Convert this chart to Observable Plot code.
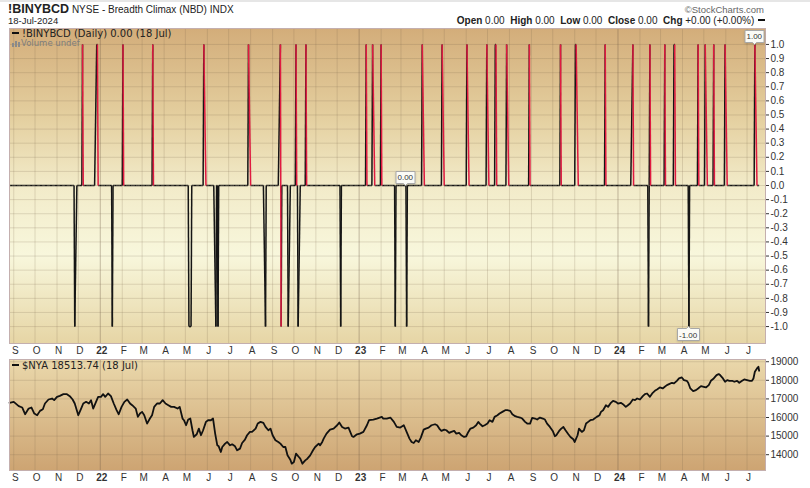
<!DOCTYPE html>
<html><head><meta charset="utf-8">
<script src="https://cdn.jsdelivr.net/npm/d3@7"></script>
<script src="https://cdn.jsdelivr.net/npm/@observablehq/plot@0.6"></script>
<style>
body{margin:0;background:#fff;font-family:"Liberation Sans",Arial,sans-serif;}
#wrap{position:relative;width:810px;height:488px;overflow:hidden;background:#fff;}
.abs{position:absolute;white-space:nowrap;}
.leg{font-family:"DejaVu Sans",sans-serif;font-size:10px;color:#222;line-height:11px;}
.dash{display:inline-block;width:7px;height:2px;background:#111;vertical-align:middle;margin-right:3px;position:relative;top:-1px;}
</style></head><body>
<svg width="0" height="0" style="position:absolute">
 <defs>
  <linearGradient id="gTop" x1="0" y1="0" x2="0" y2="1">
   <stop offset="0" stop-color="#d3ad7a"/>
   <stop offset="0.28" stop-color="#e4cf9f"/>
   <stop offset="0.5" stop-color="#f2ebc9"/>
   <stop offset="0.72" stop-color="#f8f7dc"/>
   <stop offset="1" stop-color="#e6d5a5"/>
  </linearGradient>
  <linearGradient id="gBot" x1="0" y1="0" x2="0" y2="1">
   <stop offset="0" stop-color="#ead8ab"/>
   <stop offset="1" stop-color="#cda472"/>
  </linearGradient>
 </defs>
</svg>
<div id="wrap">
 <div class="abs" style="left:0;top:0;width:810px;height:2px;background:#e6e6e6;"></div>
 <div class="abs" style="left:8px;top:2px;font-size:10px;color:#222;"><b style="font-size:12.5px;">!BINYBCD</b> NYSE - Breadth Climax (NBD) INDX</div>
 <div class="abs" style="left:8px;top:15px;font-size:9.5px;color:#222;">18-Jul-2024</div>
 <div class="abs" style="right:46px;top:4px;font-size:9.5px;color:#666;">©StockCharts.com</div>
 <div class="abs" style="right:45px;top:15px;font-size:10px;color:#222;"><b>Open</b> 0.00 &nbsp;<b>High</b> 0.00 &nbsp;<b>Low</b> 0.00 &nbsp;<b>Close</b> 0.00 &nbsp;<b>Chg</b> +0.00 (+0.00%) <span class="dash" style="margin:0 0 0 1px"></span></div>
 <div id="top" class="abs" style="left:0;top:24px"></div>
 <div id="bot" class="abs" style="left:0;top:355px"></div>
 <div class="abs leg" style="left:12px;top:28px;"><span class="dash"></span>!BINYBCD (Daily) 0.00 (18 Jul)</div>
 <div class="abs leg" style="left:12px;top:38px;font-size:8.5px;color:#7d7d7d;"><svg width="8" height="7" style="vertical-align:-1px;margin-right:1px"><rect x="0" y="3" width="2" height="4" fill="#8a8a8a"/><rect x="3" y="1" width="2" height="6" fill="#8a8a8a"/><rect x="6" y="2" width="2" height="5" fill="#8a8a8a"/></svg>Volume undef</div>
 <div class="abs leg" style="left:12px;top:360px;"><span class="dash"></span>$NYA 18513.74 (18 Jul)</div>
</div>
<script>
// ---------- data ----------
const seriesStart = "2021-08-26";
const seriesEnd = "2024-07-18";
const upDays = ["2021-12-07","2021-12-27","2021-12-28","2022-02-02","2022-03-16","2022-05-27","2022-07-29","2022-09-12",
  "2022-10-04","2022-10-18","2023-01-11","2023-01-20","2023-02-01","2023-03-31","2023-04-28","2023-06-02","2023-06-30",
  "2023-07-12","2023-07-13","2023-07-28","2023-08-29","2023-10-12","2023-11-02","2023-11-03","2023-12-14","2024-01-22",
  "2024-02-15","2024-03-07","2024-03-20","2024-03-21","2024-04-23","2024-05-03","2024-05-15","2024-05-31","2024-07-12"];
const downDays = ["2021-11-26","2022-01-18","2022-05-06","2022-05-09","2022-06-13","2022-06-16","2022-08-22","2022-09-13",
  "2022-09-23","2022-10-07","2022-12-06","2023-02-21","2023-03-09","2024-02-13","2024-04-10"];
const tagDates = ["2023-03-08","2024-07-12","2024-04-10"];
const tagValues = [0, 1, -1];
const tagLabels = ["0.00","1.00","-1.00"];

const nyaDates = ["2021-08-26","2021-09-01","2021-09-08","2021-09-13","2021-09-17","2021-09-22","2021-09-26","2021-09-30",
"2021-10-04","2021-10-08","2021-10-12","2021-10-15","2021-10-20","2021-10-25","2021-10-28","2021-11-01","2021-11-05",
"2021-11-10","2021-11-15","2021-11-19","2021-11-23","2021-11-26","2021-12-01","2021-12-05","2021-12-08","2021-12-12",
"2021-12-16","2021-12-19","2021-12-22","2021-12-26","2021-12-29","2022-01-02","2022-01-05","2022-01-08","2022-01-12",
"2022-01-16","2022-01-20","2022-01-24","2022-01-27","2022-01-31","2022-02-04","2022-02-08","2022-02-12","2022-02-15",
"2022-02-20","2022-02-23","2022-02-26","2022-03-01","2022-03-04","2022-03-08","2022-03-12","2022-03-15","2022-03-18",
"2022-03-22","2022-03-26","2022-03-30","2022-04-03","2022-04-07","2022-04-11","2022-04-15","2022-04-20","2022-04-23",
"2022-04-27","2022-04-29","2022-05-02","2022-05-05","2022-05-08","2022-05-11","2022-05-13","2022-05-17","2022-05-20",
"2022-05-23","2022-05-26","2022-05-30","2022-06-02","2022-06-06","2022-06-09","2022-06-12","2022-06-15","2022-06-17",
"2022-06-20","2022-06-22","2022-06-26","2022-06-29","2022-07-03","2022-07-06","2022-07-10","2022-07-13","2022-07-17",
"2022-07-20","2022-07-24","2022-07-27","2022-07-31","2022-08-03","2022-08-08","2022-08-11","2022-08-15","2022-08-19",
"2022-08-22","2022-08-26","2022-08-29","2022-09-01","2022-09-05","2022-09-09","2022-09-12","2022-09-16","2022-09-19",
"2022-09-22","2022-09-26","2022-09-28","2022-10-01","2022-10-04","2022-10-08","2022-10-10","2022-10-13","2022-10-17",
"2022-10-20","2022-10-24","2022-10-28","2022-10-31","2022-11-05","2022-11-07","2022-11-10","2022-11-12","2022-11-16",
"2022-11-21","2022-11-26","2022-12-01","2022-12-04","2022-12-08","2022-12-12","2022-12-17","2022-12-22","2022-12-24",
"2022-12-29","2023-01-02","2023-01-07","2023-01-12","2023-01-15","2023-01-21","2023-01-26","2023-02-02","2023-02-04",
"2023-02-09","2023-02-14","2023-02-19","2023-02-23","2023-02-28","2023-03-05","2023-03-10","2023-03-13","2023-03-16",
"2023-03-19","2023-03-22","2023-03-26","2023-03-29","2023-04-02","2023-04-05","2023-04-09","2023-04-13","2023-04-18",
"2023-04-21","2023-04-24","2023-04-27","2023-05-01","2023-05-04","2023-05-08","2023-05-11","2023-05-15","2023-05-18",
"2023-05-22","2023-05-25","2023-05-29","2023-06-01","2023-06-04","2023-06-07","2023-06-11","2023-06-15","2023-06-18",
"2023-06-20","2023-06-24","2023-06-27","2023-07-01","2023-07-04","2023-07-08","2023-07-11","2023-07-15","2023-07-18",
"2023-07-22","2023-07-26","2023-07-29","2023-08-02","2023-08-05","2023-08-09","2023-08-12","2023-08-16","2023-08-19",
"2023-08-23","2023-08-26","2023-08-30","2023-09-02","2023-09-06","2023-09-09","2023-09-13","2023-09-17","2023-09-20",
"2023-09-23","2023-09-27","2023-10-01","2023-10-04","2023-10-06","2023-10-10","2023-10-13","2023-10-16","2023-10-19",
"2023-10-23","2023-10-26","2023-10-30","2023-11-01","2023-11-05","2023-11-07","2023-11-11","2023-11-14","2023-11-17",
"2023-11-20","2023-11-23","2023-11-27","2023-12-02","2023-12-06","2023-12-08","2023-12-11","2023-12-15","2023-12-18",
"2023-12-22","2023-12-25","2023-12-29","2024-01-01","2024-01-05","2024-01-08","2024-01-12","2024-01-15","2024-01-18",
"2024-01-22","2024-01-25","2024-01-28","2024-02-01","2024-02-05","2024-02-08","2024-02-11","2024-02-15","2024-02-19",
"2024-02-22","2024-02-25","2024-02-29","2024-03-04","2024-03-07","2024-03-10","2024-03-13","2024-03-17","2024-03-20",
"2024-03-24","2024-03-27","2024-03-31","2024-04-03","2024-04-07","2024-04-09","2024-04-12","2024-04-16","2024-04-20",
"2024-04-23","2024-04-27","2024-05-01","2024-05-04","2024-05-08","2024-05-11","2024-05-15","2024-05-19","2024-05-22",
"2024-05-24","2024-05-28","2024-05-31","2024-06-03","2024-06-06","2024-06-10","2024-06-13","2024-06-17","2024-06-20",
"2024-06-24","2024-06-27","2024-07-01","2024-07-05","2024-07-08","2024-07-10","2024-07-12","2024-07-15","2024-07-17",
"2024-07-18"];
const nyaValues = [16789,16843,16609,16537,16177,16483,16537,16213,
16124,16357,16447,16753,16969,17022,16933,17112,17166,
17256,17256,17148,16969,16753,16124,16483,16753,16843,
16753,16933,16483,16843,17112,17112,17256,17112,17292,
17148,16753,16393,16177,16573,16843,16969,16753,16663,
16483,16034,16213,16303,16124,15674,15944,16124,16573,
16753,16753,16933,16753,16663,16573,16573,16483,16573,
15944,15854,15584,15890,15944,15314,14955,15099,15404,
15045,15314,15764,15854,15854,15944,15135,14505,14451,
14146,14415,14595,14685,14505,14559,14451,14236,14326,
14631,14811,15045,15225,15225,15404,15674,15764,15710,
15494,15314,15404,15045,14775,14685,14595,14415,14415,
13966,13732,13516,13606,14056,13876,13786,13516,13696,
13786,13966,14236,14415,14595,14505,14685,14865,15135,
15350,15404,15584,15728,15494,15404,15458,14991,14955,
15099,15135,15225,15584,15854,15890,15944,16034,15944,
15944,15998,15764,15494,15458,15584,15135,14865,14685,
14631,14775,14685,14919,15350,15404,15458,15584,15638,
15584,15404,15278,15350,15314,15171,15225,15278,15135,
15171,15045,14955,14991,15225,15404,15458,15584,15764,
15674,15530,15584,15674,15854,15764,16034,16124,16213,
16303,16393,16393,16357,16177,16070,16034,15998,15944,
15764,15674,15674,15980,15944,15890,15998,15944,15890,
15674,15494,15278,14991,15045,15278,15404,15494,15314,
15099,14955,14829,14685,15045,15404,15225,15314,15674,
15764,15854,15890,16034,16124,16303,16393,16663,16573,
16789,16897,16843,16753,16789,16717,16573,16663,16753,
16969,16933,17022,16969,17148,17256,17292,17112,17328,
17436,17508,17616,17562,17652,17742,17796,17868,17832,
17975,18101,18155,18011,17975,17868,17562,17418,17472,
17562,17688,17652,17616,17742,17975,18101,18281,18335,
18281,18101,17922,18011,17975,17975,17922,17975,17868,
17975,18047,18011,17975,17975,18101,18461,18641,18731,
18513.74];

const topTicks = d3.range(-10, 11).map(i => i / 10);
const botTicks = [14000, 15000, 16000, 17000, 18000, 19000];

// ---------- derived tables ----------
const parse = d3.utcParse("%Y-%m-%d");
const fmt = d3.utcFormat("%Y-%m-%d");
const upSet = new Set(upDays), downSet = new Set(downDays);
const tradingDays = d3.utcDay.range(parse(seriesStart), d3.utcDay.offset(parse(seriesEnd), 1))
  .filter(d => d.getUTCDay() % 6 !== 0);
const breadth = tradingDays.map(d => {
  const k = fmt(d);
  return {date: d, value: upSet.has(k) ? 1 : downSet.has(k) ? -1 : 0};
});
const segs = d3.pairs(breadth).map(([a, b]) => ({x1: a.date, y1: a.value, x2: b.date, y2: b.value, fall: a.value > 0 && b.value < a.value}));
const tags = tagDates.map((d, i) => ({date: parse(d), value: tagValues[i], label: tagLabels[i]}));
const nya = nyaDates.map((d, i) => ({date: parse(d), value: nyaValues[i]}));

const xDomain = [parse("2021-08-26"), parse("2024-07-27")];
const months = d3.utcMonth.range(parse("2021-09-01"), parse("2024-07-02"));
const jans = months.filter(m => m.getUTCMonth() === 0);
const others = months.filter(m => m.getUTCMonth() !== 0);
const grid = "rgba(120,100,75,0.2)";
const yearGrid = "rgba(110,90,70,0.38)";
const style = {fontFamily: "'Liberation Sans', Arial, sans-serif", fontSize: "10px", color: "#333", background: "transparent", overflow: "visible"};

function xAxes() {
  return [
    Plot.axisX({ticks: others, anchor: "bottom", label: null, tickSize: 0, tickPadding: 3, dx: 1.5, tickFormat: d => d3.utcFormat("%b")(d)[0], fontSize: 10}),
    Plot.axisX({ticks: jans, anchor: "bottom", label: null, tickSize: 0, tickPadding: 3, dx: 1.5, tickFormat: d3.utcFormat("%y"), fontWeight: "bold", fontSize: 10})
  ];
}
function tipMarks(data, anchor) {
  if (Plot.tip) {
    return Plot.tip(data, {x: "date", y: "value", title: "label", anchor, fontSize: 8, textPadding: 1.5, pointerSize: 4,
      fill: "#fbfbf6", stroke: "#a8a8a8", fontFamily: "'Liberation Sans', Arial, sans-serif",
      pathFilter: "drop-shadow(0 1px 1px rgba(0,0,0,0.15))"});
  }
  return Plot.text(data, {x: "date", y: "value", text: "label", dy: anchor === "bottom" ? -10 : 10, fontSize: 8, stroke: "white", strokeWidth: 3, fill: "#222"});
}

const topPlot = Plot.plot({
  width: 810, height: 334, marginTop: 4, marginBottom: 15, marginLeft: 9, marginRight: 45,
  style,
  x: {type: "utc", domain: xDomain, axis: null, label: null},
  y: {domain: [-1.12, 1.113], axis: null, label: null},
  marks: [
    Plot.frame({fill: "url(#gTop)"}),
    Plot.ruleY(topTicks, {stroke: grid}),
    Plot.ruleX(others, {stroke: grid}),
    Plot.ruleX(jans, {stroke: yearGrid}),
    Plot.link(segs.filter(s => !s.fall), {x1: "x1", y1: "y1", x2: "x2", y2: "y2", stroke: "#151515", strokeWidth: 1.5}),
    Plot.link(segs.filter(s => s.fall), {x1: "x1", y1: "y1", x2: "x2", y2: "y2", stroke: "#e01a40", strokeWidth: 1.5}),
    Plot.frame({stroke: "#c4afae"}),
    Plot.axisY({ticks: topTicks, anchor: "right", label: null, tickSize: 3, tickPadding: 2, tickFormat: d => d.toFixed(1), fontSize: 10}),
    ...xAxes(),
    tipMarks(tags.filter(t => t.value >= 0), "bottom"),
    tipMarks(tags.filter(t => t.value < 0), "top")
  ]
});
document.getElementById("top").appendChild(topPlot);

const botPlot = Plot.plot({
  width: 810, height: 133, marginTop: 4, marginBottom: 18, marginLeft: 9, marginRight: 45,
  style,
  x: {type: "utc", domain: xDomain, axis: null, label: null},
  y: {domain: [13150, 19120], axis: null, label: null},
  marks: [
    Plot.frame({fill: "url(#gBot)"}),
    Plot.ruleY(botTicks, {stroke: grid}),
    Plot.ruleX(others, {stroke: grid}),
    Plot.ruleX(jans, {stroke: yearGrid}),
    Plot.line(nya, {x: "date", y: "value", stroke: "#111", strokeWidth: 1.8, curve: "linear"}),
    Plot.frame({stroke: "#c4afae"}),
    Plot.axisY({ticks: botTicks, anchor: "right", label: null, tickSize: 3, tickPadding: 2, tickFormat: d => String(d), fontSize: 10}),
    ...xAxes()
  ]
});
document.getElementById("bot").appendChild(botPlot);
</script>
</body></html>
